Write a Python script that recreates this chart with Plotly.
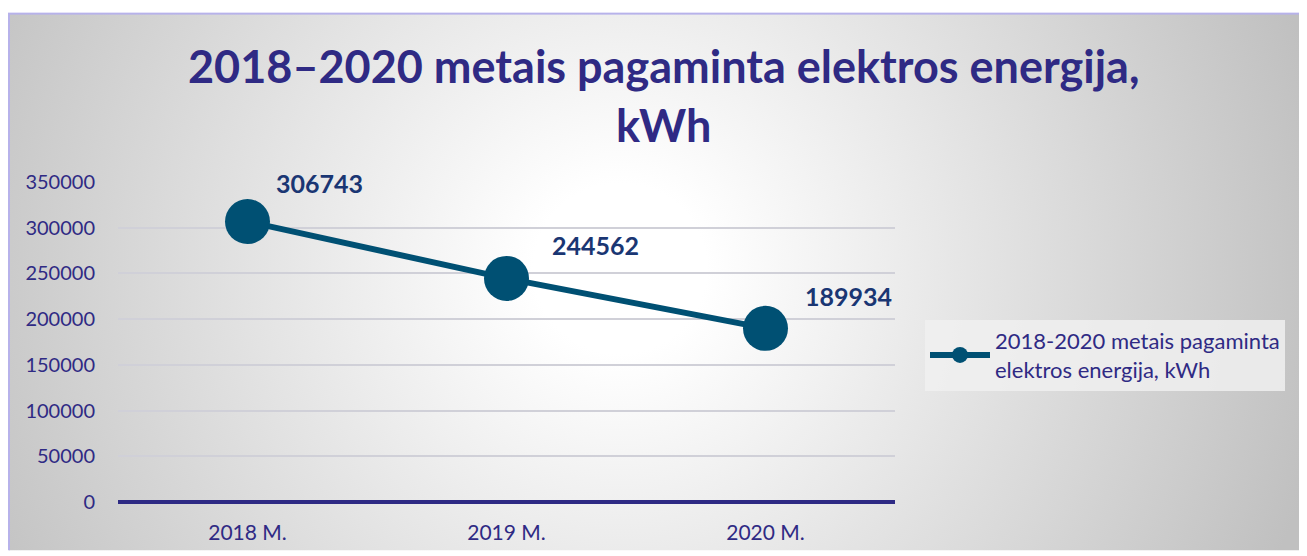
import base64
import plotly.graph_objects as go

categories = ["2018 M.", "2019 M.", "2020 M."]
values = [306743, 244562, 189934]
series_name = "2018-2020 metais pagaminta<br>elektros energija, kWh"
title_text = "2018–2020 metais pagaminta elektros energija,<br>kWh"
y_ticks = [0, 50000, 100000, 150000, 200000, 250000, 300000, 350000]

# label placement offsets (px) relative to each point, as in the original layout
label_dx = [72, 89, 83]
label_dy = [39, 33, 32]

# page body has an 8px margin; figure drawn from page (8,8)
OFF = 8
W, H = 1307 - OFF, 556 - OFF
ML, MR, MT, MB = 110, 412, 174, 49
PW, PH = W - ML - MR, H - MT - MB

svg = f'''<svg xmlns="http://www.w3.org/2000/svg" width="{W}" height="{H}" viewBox="0 0 {W} {H}" preserveAspectRatio="none">
<defs><radialGradient id="g" gradientUnits="userSpaceOnUse" cx="612" cy="262" r="720">
<stop offset="0.12" stop-color="#ffffff"/><stop offset="1" stop-color="#c0c0c0"/></radialGradient></defs>
<rect x="0" y="0" width="{W}" height="{H}" fill="#ffffff"/>
<rect x="1" y="3" width="1296" height="560" fill="url(#g)" stroke="#b7b2ea" stroke-width="2"/>
</svg>'''
src = "data:image/svg+xml;base64," + base64.b64encode(svg.encode()).decode()

FONT = "Lato"
TXT = "#2f2a84"
LINE = "#005073"

fig = go.Figure()
fig.add_trace(go.Scatter(
    x=categories, y=values, mode="lines+markers", name=series_name,
    line=dict(color=LINE, width=6),
    marker=dict(color=LINE, size=45),
    showlegend=True,
))

for c, v, dx, dy in zip(categories, values, label_dx, label_dy):
    fig.add_annotation(x=c, y=v, text=f"<b>{v}</b>", showarrow=False,
                       xshift=dx, yshift=dy,
                       font=dict(family=FONT, size=25, color="#1a3673"))

fig.add_annotation(text=f"<b>{title_text}</b>", xref="paper", yref="paper",
                   x=(663 - OFF - ML) / PW, y=(H - MB - (94 - OFF)) / PH,
                   xanchor="center", yanchor="middle", showarrow=False,
                   font=dict(family=FONT, size=45, color=TXT))

fig.update_layout(
    width=W, height=H,
    margin=dict(l=ML, r=MR, t=MT, b=MB),
    paper_bgcolor="white", plot_bgcolor="rgba(0,0,0,0)",
    images=[dict(source=src, xref="paper", yref="paper",
                 x=-ML / PW, y=1 + MT / PH, sizex=W / PW, sizey=H / PH,
                 xanchor="left", yanchor="top", sizing="stretch", layer="below")],
    legend=dict(x=(925 - OFF - ML) / PW, y=(H - MB - (322 - OFF)) / PH, xanchor="left", yanchor="top",
                bgcolor="rgba(240,240,240,0.85)", font=dict(family=FONT, size=22, color=TXT),
                itemwidth=60),
    xaxis=dict(type="category", range=[-0.5, 2.5], showgrid=False, showline=False,
               ticks="", tickfont=dict(family=FONT, size=21, color=TXT), ticklabelstandoff=16),
    yaxis=dict(range=[0, 350000], tickvals=y_ticks, ticktext=[str(t) for t in y_ticks],
               showgrid=True, gridcolor="#d0d0d8", gridwidth=1.5,
               zeroline=True, zerolinecolor="#2e2a84", zerolinewidth=4,
               ticks="", tickfont=dict(family=FONT, size=20, color=TXT), ticklabelstandoff=22),
    showlegend=True,
)

fig.write_html("out.html")
